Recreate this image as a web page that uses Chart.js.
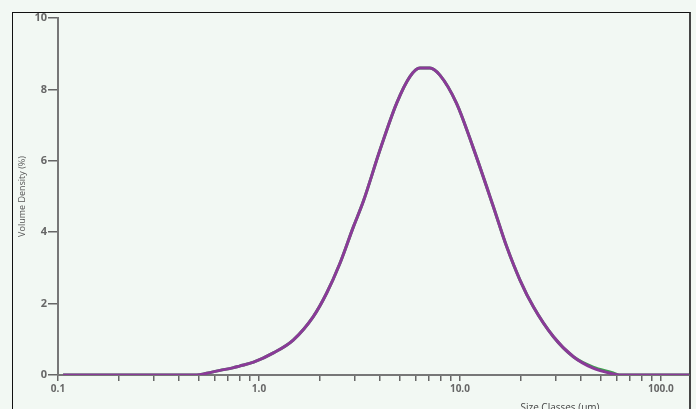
<!DOCTYPE html>
<html>
<head>
<meta charset="utf-8">
<script src="https://cdn.jsdelivr.net/npm/chart.js@4.4.1/dist/chart.umd.min.js"></script>
<style>
  html, body { margin: 0; padding: 0; background: #f2f8f3; overflow: hidden; }
  #wrap { position: relative; width: 696px; height: 409px; }
  #frame {
    position: absolute; left: 12px; top: 12px; width: 676px; height: 420px;
    border-left: 1px solid #111; border-top: 1px solid #111; border-right: 2px solid #444;
  }
  canvas { position: absolute; left: 0; top: 0; }
</style>
</head>
<body>
<div id="wrap">
  <div id="frame"></div>
  <canvas id="psd" width="696" height="409"></canvas>
</div>
<script>
// size classes (um) and volume density (%)
const sizes = [0.106, 0.2, 0.3, 0.4, 0.49, 0.55, 0.64, 0.74, 0.8, 0.94, 1.18, 1.48, 1.86, 2.17, 2.53, 2.95, 3.3, 4.0, 4.84, 5.64, 6.32, 7.09, 7.95, 9.62, 11.6, 14.6, 17.1, 19.9, 23.2, 29.2, 36.7, 46.0, 57.9, 62, 80, 100, 138];
const density = [0, 0, 0, 0, 0, 0.05, 0.13, 0.2, 0.25, 0.36, 0.62, 0.98, 1.63, 2.29, 3.13, 4.15, 4.85, 6.3, 7.61, 8.36, 8.6, 8.6, 8.4, 7.61, 6.39, 4.75, 3.59, 2.66, 1.91, 1.07, 0.51, 0.19, 0.03, 0, 0, 0, 0];
// second record, almost identical, shows only in the tail
const density2 = [0, 0, 0, 0, 0, 0.05, 0.13, 0.2, 0.25, 0.36, 0.62, 0.98, 1.63, 2.29, 3.13, 4.15, 4.85, 6.3, 7.61, 8.36, 8.6, 8.6, 8.4, 7.61, 6.39, 4.75, 3.59, 2.66, 1.91, 1.07, 0.51, 0.22, 0.06, 0, 0, 0, 0];

const xTicks = [0.1, 0.2, 0.3, 0.4, 0.5, 0.6, 0.7, 0.8, 0.9, 1, 2, 3, 4, 5, 6, 7, 8, 9, 10, 20, 30, 40, 50, 60, 70, 80, 90, 100];
const xLabels = { 0.1: '0.1', 1: '1.0', 10: '10.0', 100: '100.0' };
const yTicks = [0, 2, 4, 6, 8, 10];

const toPoints = (ys) => sizes.map((s, i) => ({ x: s, y: ys[i] }));

// x axis title sits off to the right in the original
const xTitle = {
  id: 'xTitle',
  afterDraw(chart) {
    const ctx = chart.ctx;
    ctx.save();
    ctx.font = '10px "Open Sans"';
    ctx.fillStyle = '#444';
    ctx.textAlign = 'center';
    ctx.textBaseline = 'alphabetic';
    ctx.fillText('Size Classes (μm)', 560, 411);
    ctx.restore();
  }
};

new Chart(document.getElementById('psd'), {
  type: 'line',
  data: {
    datasets: [
      {
        label: 'Record 1',
        data: toPoints(density),
        borderColor: '#8a3a98',
        borderWidth: 3,
        pointRadius: 0,
        cubicInterpolationMode: 'monotone',
        fill: false
      },
      {
        label: 'Record 2',
        data: toPoints(density2),
        borderColor: '#3fa14e',
        borderWidth: 3,
        pointRadius: 0,
        cubicInterpolationMode: 'monotone',
        fill: false
      }
    ]
  },
  options: {
    responsive: false,
    animation: false,
    layout: { padding: { left: 17, top: 18, right: 7, bottom: 0 } },
    plugins: { legend: { display: false }, tooltip: { enabled: false } },
    scales: {
      x: {
        type: 'logarithmic',
        min: 0.1,
        max: 138,
        afterBuildTicks: (scale) => { scale.ticks = xTicks.map(v => ({ value: v })); },
        afterFit: (scale) => { scale.height = 34; },
        border: { display: true, color: '#777', width: 2 },
        grid: { drawOnChartArea: false, drawTicks: true, tickLength: 6, color: '#666', lineWidth: 1.5 },
        ticks: {
          autoSkip: false,
          maxRotation: 0,
          padding: 2,
          color: '#666',
          font: { family: 'Open Sans', size: 10, weight: 'bold' },
          callback: (v) => xLabels[v] || ''
        }
      },
      y: {
        min: 0,
        max: 10,
        afterBuildTicks: (scale) => { scale.ticks = yTicks.map(v => ({ value: v })); },
        afterFit: (scale) => { scale.width = 41; },
        border: { display: true, color: '#777', width: 2 },
        grid: { drawOnChartArea: false, drawTicks: true, tickLength: 10, color: '#666', lineWidth: 1.5 },
        title: {
          display: true,
          text: 'Volume Density (%)',
          color: '#555',
          padding: { top: 0, bottom: 4 },
          font: { family: 'Open Sans', size: 9 }
        },
        ticks: {
          padding: 1,
          color: '#666',
          font: { family: 'Open Sans', size: 11, weight: 'bold' }
        }
      }
    }
  },
  plugins: [xTitle]
});
</script>
</body>
</html>
